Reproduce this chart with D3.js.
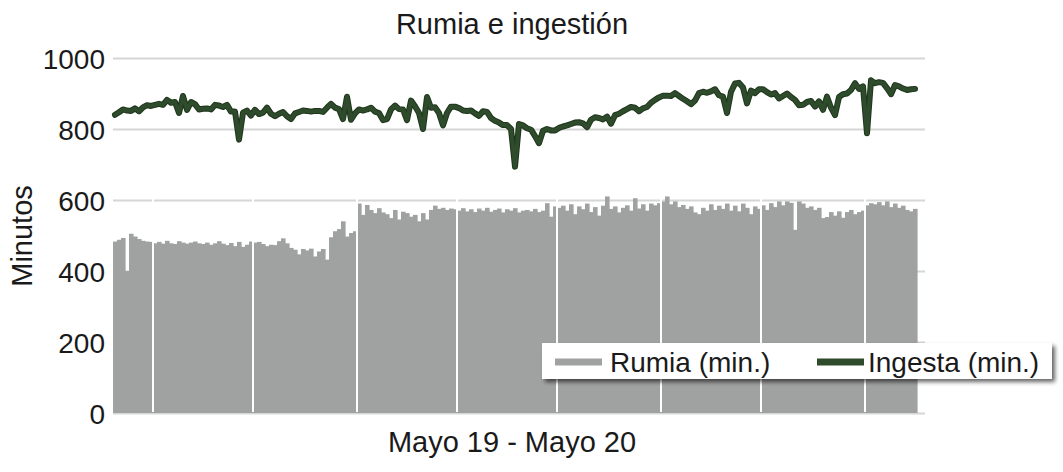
<!DOCTYPE html>
<html>
<head>
<meta charset="utf-8">
<script src="https://cdn.jsdelivr.net/npm/d3@7"></script>
<style>
	body { margin: 0; background: #fff; }
	svg { display: block; font-family: 'Liberation Sans', Arial, Helvetica, sans-serif; }
</style>
</head>
<body>
<svg id="chart"></svg>
<script>
/* eslint-disable no-var, no-undef */

// daily minutes, May 2019 - May 2020 (~2 days per value)
var rumia = [
	483, 488, 493, 400, 505, 497, 490, 485, 483, 482,
	478, 482, 477, 485, 478, 476, 484, 480, 477, 480,
	483, 478, 476, 480, 474, 478, 484, 477, 473, 479,
	470, 482, 468, 474, 483, 480, 482, 476, 470, 474,
	473, 484, 492, 478, 465, 460, 447, 462, 458, 463,
	441, 455, 462, 432, 495, 512, 518, 540, 497, 507,
	512, 590, 558, 586, 572, 563, 577, 565, 560, 549,
	572, 545, 567, 563, 553, 558, 540, 563, 545, 572,
	584, 575, 578, 572, 576, 574, 570, 577, 568, 574,
	566, 576, 570, 578, 567, 572, 576, 565, 574, 570,
	577, 565, 570, 572, 568, 575, 566, 570, 591, 553,
	582, 578, 584, 570, 588, 560, 582, 574, 590, 566,
	580, 556, 584, 610, 575, 582, 565, 578, 585, 570,
	605, 576, 588, 570, 590, 585, 591, 596, 610, 588,
	596, 580, 586, 575, 582, 565, 560, 578, 570, 588,
	572, 584, 575, 590, 570, 584, 568, 590, 578, 560,
	582, 575, 585, 572, 591, 580, 596, 585, 596, 592,
	516, 596, 590, 578, 582, 572, 578, 549, 552, 566,
	556, 568, 550, 566, 572, 560, 566, 570, 585, 591,
	588, 594, 585, 596, 580, 590, 578, 584, 572, 568,
	575
];

var ingesta = [
	840, 847, 855, 852, 851, 858, 850, 861, 867, 865,
	868, 871, 868, 882, 874, 876, 845, 893, 854, 876,
	870, 855, 857, 858, 855, 868, 866, 862, 868, 849,
	849, 770, 846, 852, 838, 854, 842, 846, 860, 843,
	836, 843, 848, 836, 828, 844, 848, 852, 851, 849,
	851, 851, 848, 860, 871, 860, 856, 828, 891, 826,
	844, 855, 852, 855, 860, 849, 845, 825, 828, 855,
	866, 856, 855, 825, 880, 864, 845, 800, 890, 860,
	861, 845, 810, 845, 863, 863, 859, 852, 851, 852,
	844, 837, 850, 848, 831, 823, 818, 811, 811, 800,
	694, 814, 810, 802, 798, 780, 760, 795, 800, 796,
	796, 803, 807, 810, 814, 818, 819, 816, 805, 826,
	833, 831, 827, 835, 815, 839, 843, 850, 856, 862,
	860, 850, 858, 862, 874, 882, 889, 894, 894, 893,
	901, 893, 885, 878, 870, 880, 901, 905, 902, 906,
	912, 895, 891, 845, 905, 928, 930, 917, 872, 908,
	901, 912, 912, 904, 897, 901, 886, 893, 900, 890,
	882, 867, 868, 876, 879, 863, 878, 854, 891, 860,
	839, 890, 898, 900, 910, 929, 913, 920, 788, 937,
	929, 932, 930, 915, 898, 924, 920, 914, 910, 912,
	913
];

// index of the bar where each white break in the columns starts
var breaks = [ 10, 35, 61, 86, 111, 137, 162, 188 ];

var yTicks = [ 0, 200, 400, 600, 800, 1000 ];

var title = 'Rumia e ingestión';
var xLabel = 'Mayo 19 - Mayo 20';
var yLabel = 'Minutos';
var seriesNames = [ 'Rumia (min.)', 'Ingesta (min.)' ];
var colors = [ '#a0a2a1', '#2e4b2b' ];

var width = 1063;
var height = 472;
var svg = d3.select( '#chart' )
	.attr( 'width', width )
	.attr( 'height', height );

var defs = svg.append( 'defs' );
var shadow = defs.append( 'filter' )
	.attr( 'id', 'shadow' )
	.attr( 'x', '-5%' )
	.attr( 'y', '-30%' )
	.attr( 'width', '110%' )
	.attr( 'height', '170%' );
shadow.append( 'feDropShadow' )
	.attr( 'dx', 3 )
	.attr( 'dy', 3 )
	.attr( 'stdDeviation', 2 )
	.attr( 'flood-color', '#000' )
	.attr( 'flood-opacity', 0.6 );

var days = d3.range( rumia.length );

var x = d3.scaleBand()
	.domain( days )
	.range( [ 113, 917 ] )
	.padding( 0 );

var y = d3.scaleLinear()
	.domain( [ 0, 1000 ] )
	.range( [ 413, 58 ] );

// title
svg.append( 'text' )
	.attr( 'x', 512 )
	.attr( 'y', 34 )
	.attr( 'text-anchor', 'middle' )
	.attr( 'font-size', 29 )
	.attr( 'fill', '#1a1a1a' )
	.text( title );

// grid + tick labels
var yAxis = svg.append( 'g' )
	.attr( 'transform', 'translate(113,0)' )
	.call( d3.axisLeft( y )
		.tickValues( yTicks )
		.tickFormat( d3.format( 'd' ) )
		.tickSize( -812 )
		.tickPadding( 8 ) );
yAxis.select( '.domain' ).remove();
yAxis.selectAll( '.tick line' )
	.attr( 'stroke', '#d6d6d6' )
	.attr( 'stroke-width', 2 );
yAxis.selectAll( '.tick text' )
	.attr( 'font-size', 28 )
	.attr( 'font-family', "'Liberation Sans', Arial, sans-serif" )
	.attr( 'fill', '#1a1a1a' )
	.attr( 'dy', '0.36em' );

// rumia columns
svg.append( 'g' )
	.selectAll( 'rect' )
	.data( rumia )
	.join( 'rect' )
	.attr( 'x', function( d, i ) {
		return x( i );
	} )
	.attr( 'y', function( d ) {
		return y( d );
	} )
	.attr( 'width', x.bandwidth() + 0.6 )
	.attr( 'height', function( d ) {
		return y( 0 ) - y( d );
	} )
	.attr( 'fill', colors[ 0 ] );

// white breaks between blocks of columns
svg.append( 'g' )
	.selectAll( 'line' )
	.data( breaks )
	.join( 'line' )
	.attr( 'x1', function( d ) {
		return x( d );
	} )
	.attr( 'x2', function( d ) {
		return x( d );
	} )
	.attr( 'y1', y( 0 ) - 1 )
	.attr( 'y2', y( 620 ) )
	.attr( 'stroke', '#fff' )
	.attr( 'stroke-width', 2 );

// ingesta line
var line = d3.line()
	.x( function( d, i ) {
		return x( i ) + x.bandwidth() / 2;
	} )
	.y( function( d ) {
		return y( d );
	} );

svg.append( 'path' )
	.datum( ingesta )
	.attr( 'fill', 'none' )
	.attr( 'stroke', '#1f361d' )
	.attr( 'stroke-width', 6 )
	.attr( 'stroke-linejoin', 'round' )
	.attr( 'stroke-linecap', 'round' )
	.attr( 'd', line );

svg.append( 'path' )
	.datum( ingesta )
	.attr( 'fill', 'none' )
	.attr( 'stroke', colors[ 1 ] )
	.attr( 'stroke-width', 4 )
	.attr( 'stroke-linejoin', 'round' )
	.attr( 'stroke-linecap', 'round' )
	.attr( 'd', line );

// axis titles
svg.append( 'text' )
	.attr( 'x', 512 )
	.attr( 'y', 452 )
	.attr( 'text-anchor', 'middle' )
	.attr( 'font-size', 29 )
	.attr( 'fill', '#1a1a1a' )
	.text( xLabel );

svg.append( 'text' )
	.attr( 'transform', 'translate(32,236) rotate(-90)' )
	.attr( 'text-anchor', 'middle' )
	.attr( 'font-size', 29 )
	.attr( 'fill', '#1a1a1a' )
	.text( yLabel );

// legend
var legend = svg.append( 'g' )
	.attr( 'transform', 'translate(542,343)' );

legend.append( 'rect' )
	.attr( 'width', 510 )
	.attr( 'height', 36 )
	.attr( 'fill', '#fff' )
	.attr( 'filter', 'url(#shadow)' );

var items = legend.selectAll( 'g' )
	.data( seriesNames )
	.join( 'g' )
	.attr( 'transform', function( d, i ) {
		return 'translate(' + ( i === 0 ? 13 : 275 ) + ',0)';
	} );

items.append( 'line' )
	.attr( 'x1', 0 )
	.attr( 'x2', 47 )
	.attr( 'y1', 19 )
	.attr( 'y2', 19 )
	.attr( 'stroke', function( d, i ) {
		return colors[ i ];
	} )
	.attr( 'stroke-width', 7 );

items.append( 'text' )
	.attr( 'x', function( d, i ) {
		return i === 0 ? 55 : 51;
	} )
	.attr( 'y', 29 )
	.attr( 'font-size', 28 )
	.attr( 'fill', '#1a1a1a' )
	.text( function( d ) {
		return d;
	} );
</script>
</body>
</html>
